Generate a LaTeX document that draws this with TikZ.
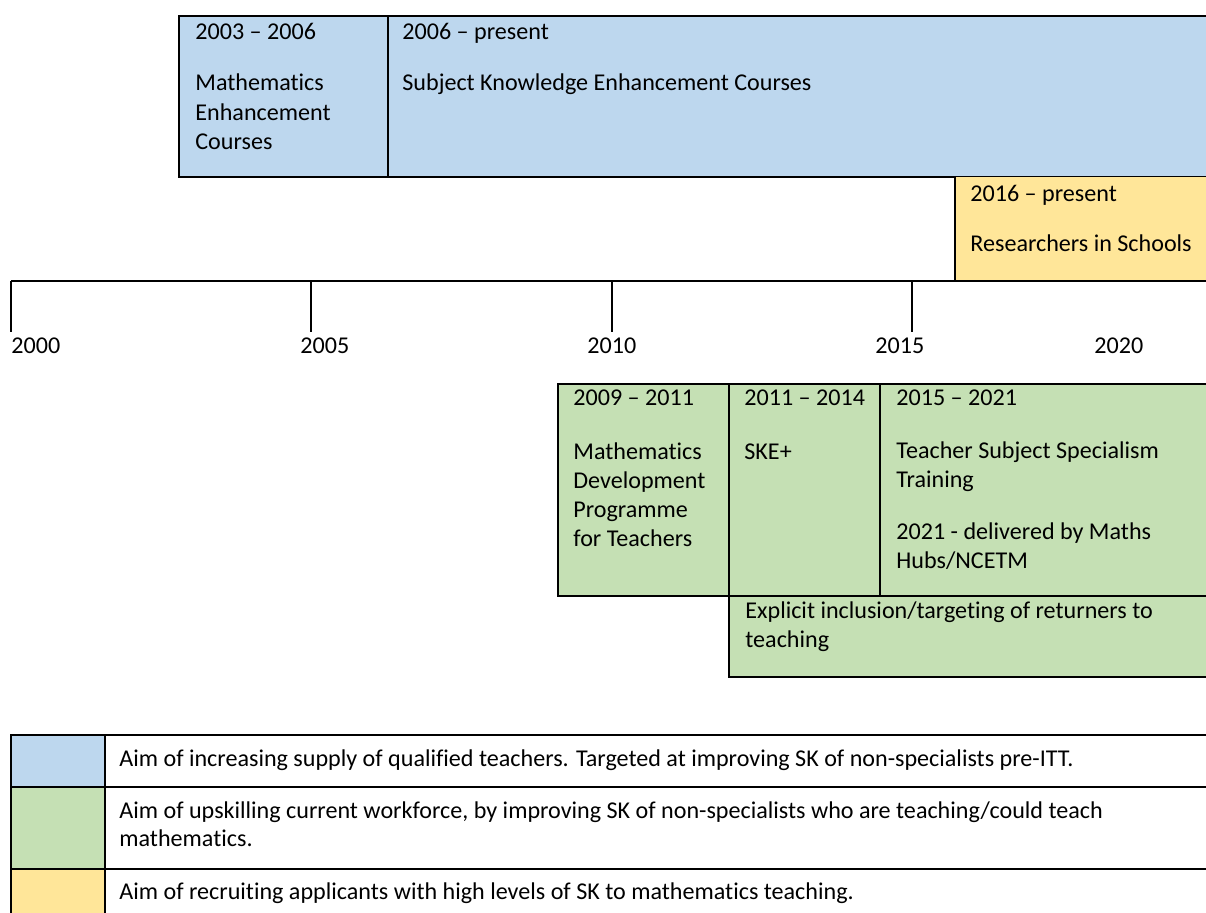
\documentclass[tikz,border=0pt]{standalone}
\usepackage{fontspec}
\setmainfont{Carlito}[Ligatures=NoCommon]
\definecolor{cblue}{HTML}{BDD7EE}
\definecolor{cgreen}{HTML}{C5E0B4}
\definecolor{cyellow}{HTML}{FFE699}
\begin{document}
\begin{tikzpicture}[x=0.5pt,y=-0.5pt,
  txt/.style={anchor=base west,inner sep=0pt,font=\fontsize{12.05}{14.5}\selectfont},
  rule/.style={line width=1pt,black}]
\useasboundingbox (0,0) rectangle (1206,913);
\clip (0,0) rectangle (1206,913);
% blue boxes
\fill[cblue] (179,16.5) rectangle (1220,177);
\draw[rule] (1220,16.5) -- (179,16.5) -- (179,177) -- (1220,177);
\draw[rule] (388,16.5) -- (388,177);
% yellow box
\fill[cyellow] (955,177) rectangle (1220,281);
\draw[rule] (955,177) -- (955,281);
% timeline
\draw[rule] (11,281) -- (1220,281);
\foreach \x in {11,311,612,912} \draw[rule] (\x,281) -- (\x,332);
% green boxes
\fill[cgreen] (558,384) rectangle (1220,596);
\fill[cgreen] (729,596) rectangle (1220,677);
\draw[rule] (1220,384) -- (558,384) -- (558,596) -- (1220,596);
\draw[rule] (729,384) -- (729,677) -- (1220,677);
\draw[rule] (880,384) -- (880,596);
% legend
\fill[cblue] (11,735) rectangle (104.5,787);
\fill[cgreen] (11,787) rectangle (104.5,869);
\fill[cyellow] (11,869) rectangle (104.5,930);
\draw[rule] (11,930) -- (11,735) -- (1220,735);
\draw[rule] (11,787) -- (1220,787);
\draw[rule] (11,869) -- (1220,869);
\draw[rule] (104.5,735) -- (104.5,930);
% texts: top
\node[txt] (t1a) at (195,40) {2003 – 2006};
\node[txt] (t1b) at (195,91) {Mathematics};
\node[txt] (t1c) at (195,120.5) {Enhancement};
\node[txt] (t1d) at (195,150) {Courses};
\node[txt] (t2a) at (402,40) {2006 – present};
\node[txt] (t2b) at (402,91) {Subject Knowledge Enhancement Courses};
\node[txt] (t3a) at (970,202) {2016 – present};
\node[txt] (t3b) at (970,252) {Researchers in Schools};
% year labels
\node[txt] (y0) at (11,354) {2000};
\node[txt] (y5) at (300,354) {2005};
\node[txt] (y10) at (587,354) {2010};
\node[txt] (y15) at (875,354) {2015};
\node[txt] (y20) at (1094,354) {2020};
% green texts
\node[txt] (g1a) at (573,406) {2009 – 2011};
\node[txt] (g1b) at (573,460) {Mathematics};
\node[txt] (g1c) at (573,489) {Development};
\node[txt] (g1d) at (573,518) {Programme};
\node[txt] (g1e) at (573,547) {for Teachers};
\node[txt] (g2a) at (744,406) {2011 – 2014};
\node[txt] (g2b) at (744,460) {SKE+};
\node[txt] (g3a) at (896,406) {2015 – 2021};
\node[txt] (g3b) at (896,459) {Teacher Subject Specialism};
\node[txt] (g3c) at (896,488) {Training};
\node[txt] (g3d) at (896,540) {2021 - delivered by Maths};
\node[txt] (g3e) at (896,569) {Hubs/NCETM};
\node[txt] (g4a) at (745,619) {Explicit inclusion/targeting of returners to};
\node[txt] (g4b) at (745,648) {teaching};
% legend texts
\node[txt] (l1) at (119,767) {Aim of increasing supply of qualified teachers. Targeted at improving SK of non-specialists pre-ITT.};
\node[txt] (l2a) at (119,819) {Aim of upskilling current workforce, by improving SK of non-specialists who are teaching/could teach};
\node[txt] (l2b) at (119,847) {mathematics.};
\node[txt] (l3) at (119,900) {Aim of recruiting applicants with high levels of SK to mathematics teaching.};
\end{tikzpicture}
\end{document}
